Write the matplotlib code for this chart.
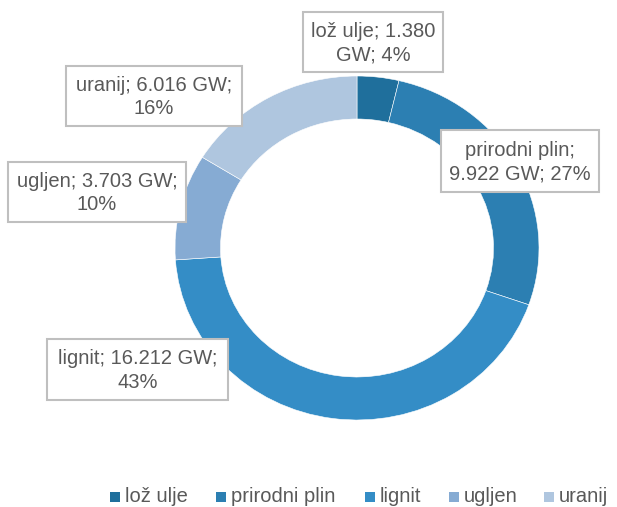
import matplotlib.pyplot as plt
from matplotlib.patches import Rectangle

# installed capacity by fuel
fuels = ['lož ulje', 'prirodni plin', 'lignit', 'ugljen', 'uranij']
capacity_gw = [1.380, 9.922, 16.212, 3.703, 6.016]
shares = [4, 27, 43, 10, 16]
colors = ['#1F6F9C', '#2C7FB2', '#348DC6', '#86ABD3', '#AFC6DF']

W, H = 617, 507
fig = plt.figure(figsize=(W / 100, H / 100), dpi=100)

# ring: slightly wider than tall
cx0, cx1, cy0, cy1 = 175, 539, 76, 420
ax = fig.add_axes([cx0 / W, 1 - cy1 / H, (cx1 - cx0) / W, (cy1 - cy0) / H])
wedges, _ = ax.pie(capacity_gw, colors=colors, startangle=90, counterclock=False,
                   wedgeprops=dict(width=0.25, edgecolor='white', linewidth=0.4))
ax.set_aspect('auto')
ax.set_xlim(-1, 1)
ax.set_ylim(-1, 1)
ax.axis('off')

# overlay axes in pixel coordinates for the label boxes
ov = fig.add_axes([0, 0, 1, 1])
ov.set_xlim(0, W)
ov.set_ylim(H, 0)
ov.axis('off')

txt_color = '#595959'
font = dict(family='Liberation Sans', size=14.5, color=txt_color)

# box (x0, y0, x1, y1) and line split per label
boxes = [
    (303, 12, 443, 72, 'lož ulje; {v}\nGW; {p}%'),
    (441, 130, 599, 192, 'prirodni plin;\n{v} GW; {p}%'),
    (47, 339, 228, 400, 'lignit; {v} GW;\n{p}%'),
    (8, 162, 186, 222, 'ugljen; {v} GW;\n{p}%'),
    (66, 66, 242, 126, 'uranij; {v} GW;\n{p}%'),
]
for (x0, y0, x1, y1, fmt), v, p in zip(boxes, capacity_gw, shares):
    ov.add_patch(Rectangle((x0, y0), x1 - x0, y1 - y0, facecolor='white',
                           edgecolor='#BFBFBF', linewidth=1.5, zorder=3))
    ov.text((x0 + x1) / 2, (y0 + y1) / 2 + 1, fmt.format(v=f'{v:.3f}', p=p),
            ha='center', va='center', linespacing=1.3, zorder=4, **font)

# legend along the bottom
leg_x = [110, 216, 365, 449, 544]
for x, name, c in zip(leg_x, fuels, colors):
    ov.add_patch(Rectangle((x, 492), 10, 10, facecolor=c, edgecolor='none'))
    ov.text(x + 15, 497, name, ha='left', va='center', **font)

fig.savefig('out.png', dpi=100)
